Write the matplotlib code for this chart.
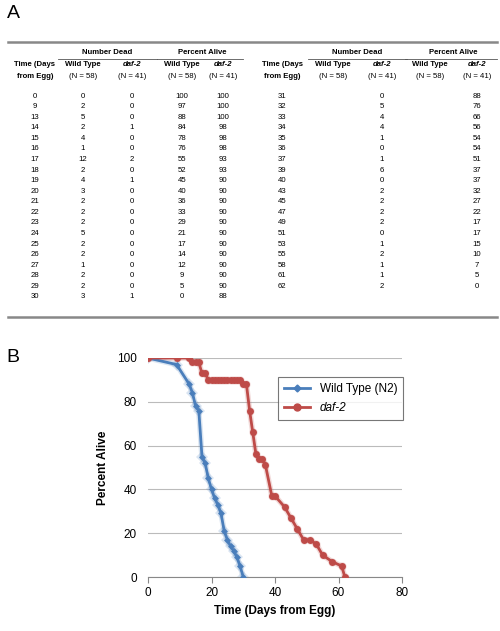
import numpy as np
import matplotlib.pyplot as plt
from matplotlib.lines import Line2D

plt.rcParams['font.family'] = ['Liberation Sans', 'DejaVu Sans']

# table data
days_left = [0, 9, 13, 14, 15, 16, 17, 18, 19, 20, 21, 22, 23, 24, 25, 26, 27, 28, 29, 30]
wt_dead = [0, 2, 5, 2, 4, 1, 12, 2, 4, 3, 2, 2, 2, 5, 2, 2, 1, 2, 2, 3]
daf_dead_left = [0, 0, 0, 1, 0, 0, 2, 0, 1, 0, 0, 0, 0, 0, 0, 0, 0, 0, 0, 1]
wt_alive = [100, 97, 88, 84, 78, 76, 55, 52, 45, 40, 36, 33, 29, 21, 17, 14, 12, 9, 5, 0]
daf_alive_left = [100, 100, 100, 98, 98, 98, 93, 93, 90, 90, 90, 90, 90, 90, 90, 90, 90, 90, 90, 88]
days_right = [31, 32, 33, 34, 35, 36, 37, 39, 40, 43, 45, 47, 49, 51, 53, 55, 58, 61, 62]
daf_dead_right = [0, 5, 4, 4, 1, 0, 1, 6, 0, 2, 2, 2, 2, 0, 1, 2, 1, 1, 2]
daf_alive_right = [88, 76, 66, 56, 54, 54, 51, 37, 37, 32, 27, 22, 17, 17, 15, 10, 7, 5, 0]

W, H = 500, 631
fig = plt.figure(figsize=(5, 6.31), dpi=100)

def px(x, y):
    return x / W, 1 - y / H

def txt(x, y, s, **kw):
    fig.text(*px(x, y), s, ha='center', va='center', **kw)

def hline(x0, x1, y, lw=1.0, color='#555555'):
    fig.add_artist(Line2D([x0 / W, x1 / W], [1 - y / H, 1 - y / H], lw=lw, color=color))

fs = 5.6
txt(13, 14, 'A', fontsize=14)
txt(13, 357, 'B', fontsize=14)

hline(8, 497, 42, lw=1.8, color='#888888')
hline(8, 497, 317, lw=1.8, color='#888888')

for off, cols in [(0, (35, 83, 132, 182, 223)), (250, (282, 333, 382, 430, 477))]:
    t, wd, dd, wa, da = cols
    txt((wd + dd) / 2, 53, 'Number Dead', fontsize=fs, fontweight='bold')
    txt((wa + da) / 2, 53, 'Percent Alive', fontsize=fs, fontweight='bold')
    hline(wd - 25, dd + 25, 59, lw=0.6)
    hline(wa - 25, da + 20, 59, lw=0.6)
    txt(t, 65, 'Time (Days', fontsize=fs, fontweight='bold')
    txt(t, 76, 'from Egg)', fontsize=fs, fontweight='bold')
    for c in (wd, wa):
        txt(c, 65, 'Wild Type', fontsize=fs, fontweight='bold')
        txt(c, 76, '(N = 58)', fontsize=fs)
    for c in (dd, da):
        txt(c, 65, 'daf-2', fontsize=fs, fontweight='bold', style='italic')
        txt(c, 76, '(N = 41)', fontsize=fs)

step = (297 - 96) / 19
for i in range(len(days_left)):
    y = 96 + i * step
    for c, v in zip((35, 83, 132, 182, 223),
                    (days_left[i], wt_dead[i], daf_dead_left[i], wt_alive[i], daf_alive_left[i])):
        txt(c, y, str(v), fontsize=fs)
for i in range(len(days_right)):
    y = 96 + i * step
    for c, v in zip((282, 382, 477), (days_right[i], daf_dead_right[i], daf_alive_right[i])):
        txt(c, y, str(v), fontsize=fs)

# survival plot
wt_x = days_left
wt_y = wt_alive
daf_x = days_left + days_right
daf_y = daf_alive_left + daf_alive_right

ax = fig.add_axes([148 / W, 1 - 577 / H, (402 - 148) / W, (577 - 358) / H])
for x, y, c, m in [(wt_x, wt_y, '#4a7ebb', 'D'), (daf_x, daf_y, '#be4b48', 'o')]:
    ax.plot(x, y, color=c, alpha=0.2, lw=4, marker=m, ms=6, mew=0, zorder=2)
    ax.plot(x, y, color=c, lw=2, marker=m, ms=3.5 if m == 'D' else 5, mew=0, zorder=3)
ax.set_xlim(0, 80)
ax.set_ylim(0, 100)
ax.set_xticks([0, 20, 40, 60, 80])
ax.set_yticks([0, 20, 40, 60, 80, 100])
ax.grid(axis='y', color='#bbbbbb', lw=0.8)
ax.set_axisbelow(True)
for s in ['top', 'right', 'left']:
    ax.spines[s].set_visible(False)
ax.spines['bottom'].set_color('#888888')
ax.tick_params(axis='y', length=0, labelsize=8.5, pad=8)
ax.tick_params(axis='x', labelsize=8.5, color='#888888', direction='out', length=4)
ax.set_xlabel('Time (Days from Egg)', fontsize=8.5, fontweight='bold')
ax.set_ylabel('Percent Alive', fontsize=8.5, fontweight='bold', labelpad=6)
handles = [Line2D([], [], color='#4a7ebb', marker='D', ms=3.5, lw=2),
           Line2D([], [], color='#be4b48', marker='o', ms=5, lw=2)]
leg = ax.legend(handles, ['Wild Type (N2)', 'daf-2'], loc='upper left', bbox_to_anchor=(0.49, 0.94),
                fontsize=8.5, frameon=True, fancybox=False, edgecolor='#555555', handlelength=2.2,
                borderpad=0.5, labelspacing=0.6)
leg.get_texts()[1].set_style('italic')
leg.get_frame().set_linewidth(0.8)

fig.savefig('out.png', dpi=100)
